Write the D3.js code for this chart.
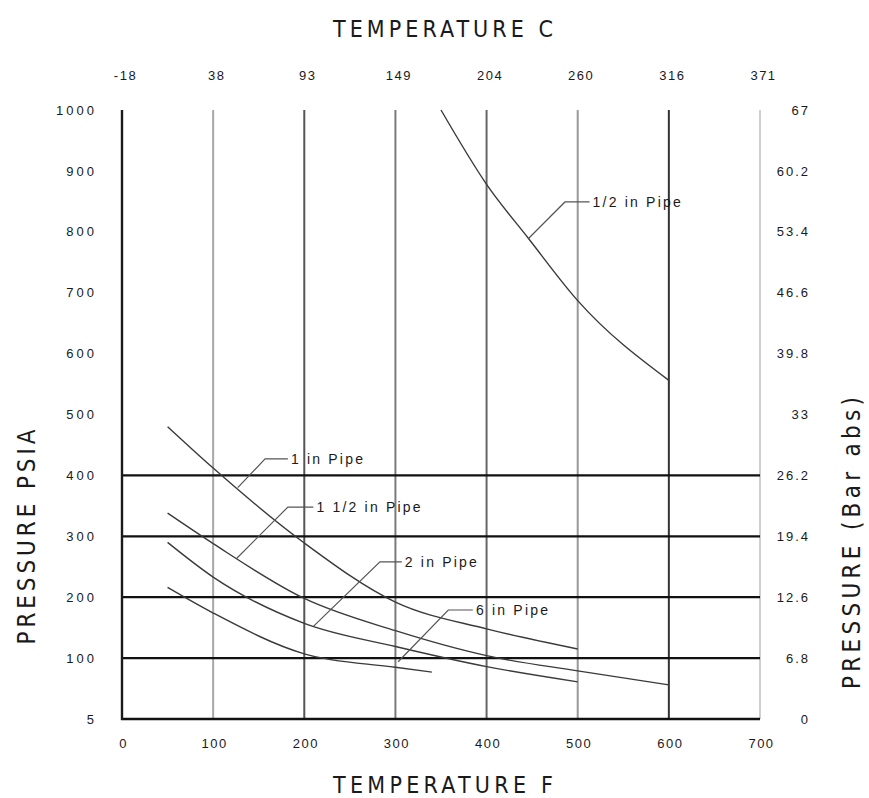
<!DOCTYPE html>
<html>
<head>
<meta charset="utf-8">
<script src="https://cdn.jsdelivr.net/npm/d3@7"></script>
<style>
  html, body { margin: 0; padding: 0; background: #fff; }
  svg { display: block; }
  text { font-family: "Liberation Sans Narrow", "DejaVu Sans Condensed", "Liberation Sans", sans-serif; fill: #1a1a1a; }
</style>
</head>
<body>
<svg id="chart" width="869" height="798"></svg>
<script>
// ---------------- DATA ----------------
const tempF = [0, 100, 200, 300, 400, 500, 600, 700];
const tempCLabels = ["-18", "38", "93", "149", "204", "260", "316", "371"];
const psiTicks = [0, 100, 200, 300, 400, 500, 600, 700, 800, 900, 1000];
const psiLabels = ["5", "100", "200", "300", "400", "500", "600", "700", "800", "900", "1000"];
const barLabels = ["0", "6.8", "12.6", "19.4", "26.2", "33", "39.8", "46.6", "53.4", "60.2", "67"];
const gridPsi = [100, 200, 300, 400];

const pipeHalfF   = [350, 400, 446, 500, 600];
const pipeHalfPsi = [1000, 878, 789, 687, 556];
const pipe1F      = [50, 100, 200, 300, 400, 500];
const pipe1Psi    = [480, 412, 289, 192, 148, 115];
const pipe15F     = [50, 100, 200, 300, 400, 500, 600];
const pipe15Psi   = [338, 288, 198, 145, 104, 79, 56];
const pipe2F      = [50, 100, 200, 300, 400, 500];
const pipe2Psi    = [290, 233, 157, 119, 86, 61];
const pipe6F      = [50, 100, 200, 300, 340];
const pipe6Psi    = [216, 174, 107, 85, 77];

const seriesNames = ["1/2  in  Pipe", "1  in  Pipe", "1  1/2  in  Pipe", "2  in  Pipe", "6  in  Pipe"];
// leader lines: anchor on curve (F, psi), elbow (F, psi), end of horizontal run (F)
const leadAnchorF = [446, 127, 126, 210, 303];
const leadAnchorP = [789, 380, 264, 152, 94];
const leadElbowF  = [486, 157, 182, 283, 358];
const leadElbowP  = [849, 427, 348, 258, 179];
const leadEndF    = [513, 182, 210, 307, 385];

// ---------------- LAYOUT ----------------
const svg = d3.select("#chart");
const x = d3.scaleLinear().domain([0, 700]).range([122, 760]);
const y = d3.scaleLinear().domain([0, 1000]).range([719, 110]);

const vGridColors = ["#1a1a1a", "#a8a8a8", "#555", "#7a7a7a", "#666", "#999", "#333", "#cfcfcf"];
const tickFont = "'Liberation Sans', Arial, sans-serif";

// vertical grid lines
svg.append("g").selectAll("line").data(tempF).join("line")
  .attr("x1", d => x(d)).attr("x2", d => x(d))
  .attr("y1", y(1000)).attr("y2", y(0))
  .attr("stroke", (d, i) => vGridColors[i])
  .attr("stroke-width", 2);

// horizontal grid lines
svg.append("g").selectAll("line").data(gridPsi).join("line")
  .attr("x1", x(0)).attr("x2", x(700))
  .attr("y1", d => y(d)).attr("y2", d => y(d))
  .attr("stroke", "#111").attr("stroke-width", 2.2);

// bottom axis line
svg.append("line").attr("x1", x(0) - 1).attr("x2", x(700))
  .attr("y1", y(0)).attr("y2", y(0)).attr("stroke", "#111").attr("stroke-width", 2.6);

function styleTicks(g, ls, col) {
  g.select(".domain").remove();
  g.selectAll("text").style("font-size", "13px").style("letter-spacing", ls)
    .attr("fill", col).style("font-family", tickFont);
}

// bottom tick labels
const bottomAxis = d3.axisBottom(x).tickValues(tempF).tickSize(0).tickPadding(20).tickFormat(d3.format("d"));
const gb = svg.append("g").attr("transform", `translate(1,${y(0)})`).call(bottomAxis);
styleTicks(gb, "1.5px", "#222");

// top tick labels (Celsius)
const topAxis = d3.axisTop(x).tickValues(tempF).tickSize(0).tickPadding(30)
  .tickFormat((d, i) => tempCLabels[i]);
const gt = svg.append("g").attr("transform", `translate(3,${y(1000)})`).call(topAxis);
styleTicks(gt, "1.5px", "#222");

// left tick labels
const leftAxis = d3.axisLeft(y).tickValues(psiTicks).tickSize(0).tickPadding(25)
  .tickFormat((d, i) => psiLabels[i]);
const gl = svg.append("g").attr("transform", `translate(${x(0)},0)`).call(leftAxis);
styleTicks(gl, "3px", "#333");

// right tick labels (bar)
const rightAxis = d3.axisRight(y).tickValues(psiTicks).tickSize(0).tickPadding(50)
  .tickFormat((d, i) => barLabels[i]);
const gr = svg.append("g").attr("transform", `translate(${x(700)},0)`).call(rightAxis);
styleTicks(gr, "2px", "#333");
gr.selectAll("text").attr("text-anchor", "end");

// left axis line
svg.append("line").attr("x1", x(0)).attr("x2", x(0))
  .attr("y1", y(1000)).attr("y2", y(0) + 1).attr("stroke", "#1a1a1a").attr("stroke-width", 2.4);

// curves
const line = d3.line().x(d => x(d[0])).y(d => y(d[1])).curve(d3.curveMonotoneX);
const series = [
  d3.zip(pipeHalfF, pipeHalfPsi),
  d3.zip(pipe1F, pipe1Psi),
  d3.zip(pipe15F, pipe15Psi),
  d3.zip(pipe2F, pipe2Psi),
  d3.zip(pipe6F, pipe6Psi)
];
svg.append("g").selectAll("path").data(series).join("path")
  .attr("d", line).attr("fill", "none").attr("stroke", "#3a3a3a").attr("stroke-width", 1.4);

// leader lines + labels
const leads = seriesNames.map((n, i) => ({
  name: n, a: [leadAnchorF[i], leadAnchorP[i]], e: [leadElbowF[i], leadElbowP[i]], end: leadEndF[i]
}));
const lg = svg.append("g");
lg.selectAll("path").data(leads).join("path")
  .attr("d", d => `M${x(d.a[0])},${y(d.a[1])}L${x(d.e[0])},${y(d.e[1])}L${x(d.end)},${y(d.e[1])}`)
  .attr("fill", "none").attr("stroke", "#555").attr("stroke-width", 1.2);
lg.selectAll("text").data(leads).join("text")
  .attr("x", d => x(d.end) + 3).attr("y", d => y(d.e[1]) + 5)
  .style("font-size", "14px").style("letter-spacing", "2.2px")
  .style("font-family", tickFont)
  .attr("fill", "#2a2a2a")
  .text(d => d.name);

// axis titles
svg.append("text").attr("x", 443).attr("y", 37).attr("text-anchor", "middle")
  .attr("textLength", 220).attr("lengthAdjust", "spacing")
  .style("font-size", "23px").text("TEMPERATURE  C");
svg.append("text").attr("x", 443).attr("y", 793).attr("text-anchor", "middle")
  .attr("textLength", 220).attr("lengthAdjust", "spacing")
  .style("font-size", "23px").text("TEMPERATURE  F");
svg.append("text").attr("transform", "translate(35,537) rotate(-90)").attr("text-anchor", "middle")
  .attr("textLength", 215).attr("lengthAdjust", "spacing")
  .style("font-size", "24px").text("PRESSURE  PSIA");
svg.append("text").attr("transform", "translate(860,543) rotate(-90)").attr("text-anchor", "middle")
  .attr("textLength", 292).attr("lengthAdjust", "spacing")
  .style("font-size", "24px").text("PRESSURE  (Bar  abs)");
</script>
</body>
</html>
